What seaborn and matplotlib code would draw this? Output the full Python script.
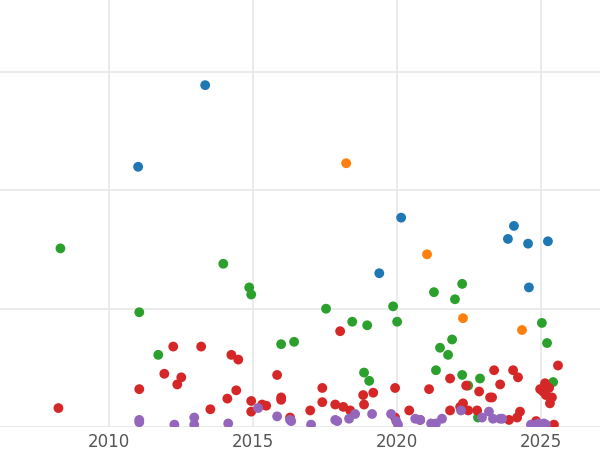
import matplotlib
matplotlib.use("Agg")
import matplotlib.pyplot as plt
import seaborn as sns
import pandas as pd

blue_x = [2011.0, 2013.33, 2019.38, 2020.14, 2023.85, 2024.06, 2024.55, 2024.58, 2025.24]
blue_y = [2.20, 2.89, 1.30, 1.77, 1.59, 1.70, 1.55, 1.18, 1.57]
orange_x = [2018.23, 2021.04, 2022.29, 2024.34]
orange_y = [2.23, 1.46, 0.92, 0.82]
green_x = [2008.3, 2011.04, 2011.7, 2013.96, 2014.86, 2014.93, 2015.97, 2016.42, 2017.53, 2018.44,
           2018.96, 2018.85, 2019.03, 2019.86, 2020.0, 2021.28, 2021.35, 2021.49, 2021.77, 2021.91,
           2022.01, 2022.26, 2022.26, 2022.47, 2022.88, 2022.81, 2025.03, 2025.21, 2025.42]
green_y = [1.51, 0.97, 0.61, 1.38, 1.18, 1.12, 0.70, 0.72, 1.0, 0.89,
           0.86, 0.46, 0.39, 1.02, 0.89, 1.14, 0.48, 0.67, 0.61, 0.74,
           1.08, 1.21, 0.44, 0.35, 0.41, 0.08, 0.88, 0.71, 0.38]
red_x = [2008.23, 2011.04, 2011.91, 2012.22, 2012.36, 2012.5, 2013.19, 2013.51, 2014.1, 2014.24,
         2014.41, 2014.48, 2014.93, 2014.93, 2015.31, 2015.45, 2015.83, 2015.97, 2015.97, 2016.28,
         2016.98, 2017.4, 2017.4, 2017.85, 2018.02, 2018.13, 2018.37, 2018.82, 2018.85, 2019.17,
         2019.93, 2019.93, 2020.42, 2020.8, 2021.11, 2021.84, 2021.84, 2022.19, 2022.29, 2022.4,
         2022.47, 2022.78, 2022.85, 2023.23, 2023.3, 2023.37, 2023.58, 2023.89, 2024.03, 2024.2,
         2024.27, 2024.17, 2024.83, 2024.97, 2025.07, 2025.14, 2025.17, 2025.28, 2025.38, 2025.31,
         2025.45, 2025.59]
red_y = [0.16, 0.32, 0.45, 0.68, 0.36, 0.42, 0.68, 0.15, 0.24, 0.61,
         0.31, 0.57, 0.22, 0.13, 0.19, 0.18, 0.44, 0.25, 0.23, 0.08,
         0.14, 0.33, 0.21, 0.19, 0.81, 0.17, 0.14, 0.27, 0.19, 0.29,
         0.33, 0.08, 0.14, 0.06, 0.32, 0.41, 0.14, 0.17, 0.20, 0.35,
         0.14, 0.14, 0.30, 0.25, 0.25, 0.48, 0.36, 0.06, 0.48, 0.42,
         0.13, 0.08, 0.05, 0.32, 0.30, 0.37, 0.27, 0.33, 0.25, 0.20,
         0.02, 0.52]
purple_x = [2011.04, 2011.04, 2012.26, 2012.95, 2012.95, 2014.13, 2015.17, 2015.83, 2016.28, 2016.32,
            2017.01, 2017.85, 2017.92, 2018.33, 2018.54, 2019.13, 2019.79, 2019.97, 2020.03, 2020.63,
            2020.8, 2021.18, 2021.35, 2021.56, 2022.22, 2022.95, 2023.19, 2023.33, 2023.58, 2023.65,
            2024.65, 2024.9, 2025.1, 2025.17]
purple_y = [0.06, 0.04, 0.02, 0.08, 0.02, 0.03, 0.16, 0.09, 0.06, 0.05,
            0.02, 0.06, 0.05, 0.07, 0.11, 0.11, 0.11, 0.05, 0.02, 0.07,
            0.06, 0.03, 0.03, 0.07, 0.14, 0.08, 0.13, 0.07, 0.07, 0.07,
            0.02, 0.03, 0.03, 0.02]

groups = ["A", "B", "C", "D", "E"]
xs = [blue_x, orange_x, green_x, red_x, purple_x]
ys = [blue_y, orange_y, green_y, red_y, purple_y]
rows = []
for g, x, y in zip(groups, xs, ys):
    for a, b in zip(x, y):
        rows.append({"year": a, "val": b, "grp": g})
df = pd.DataFrame(rows)

sns.set_style("white")
fig = plt.figure(figsize=(6, 4.5), dpi=100)
ax = fig.add_axes([0, 1 - 427 / 450, 1, 427 / 450])
palette = dict(zip(groups, ["#1f77b4", "#ff7f0e", "#2ca02c", "#d62728", "#9467bd"]))
sns.scatterplot(data=df, x="year", y="val", hue="grp", palette=palette, s=50,
                edgecolor="none", legend=False, ax=ax, zorder=3)
ax.set_xlim(2006.2, 2027.05)
ax.set_ylim(0, 3.61)
ax.set_xticks([2010, 2015, 2020, 2025])
ax.set_yticks([0, 1, 2, 3])
ax.set_yticklabels([])
ax.tick_params(axis="y", length=0)
ax.tick_params(axis="x", length=0, labelsize=12, colors="#555555", pad=4)
ax.grid(True, color="#e8e8e8", linewidth=1.2)
ax.set_axisbelow(True)
for s in ax.spines.values():
    s.set_visible(False)
ax.set_xlabel("")
ax.set_ylabel("")
fig.savefig("out.png", dpi=100)
